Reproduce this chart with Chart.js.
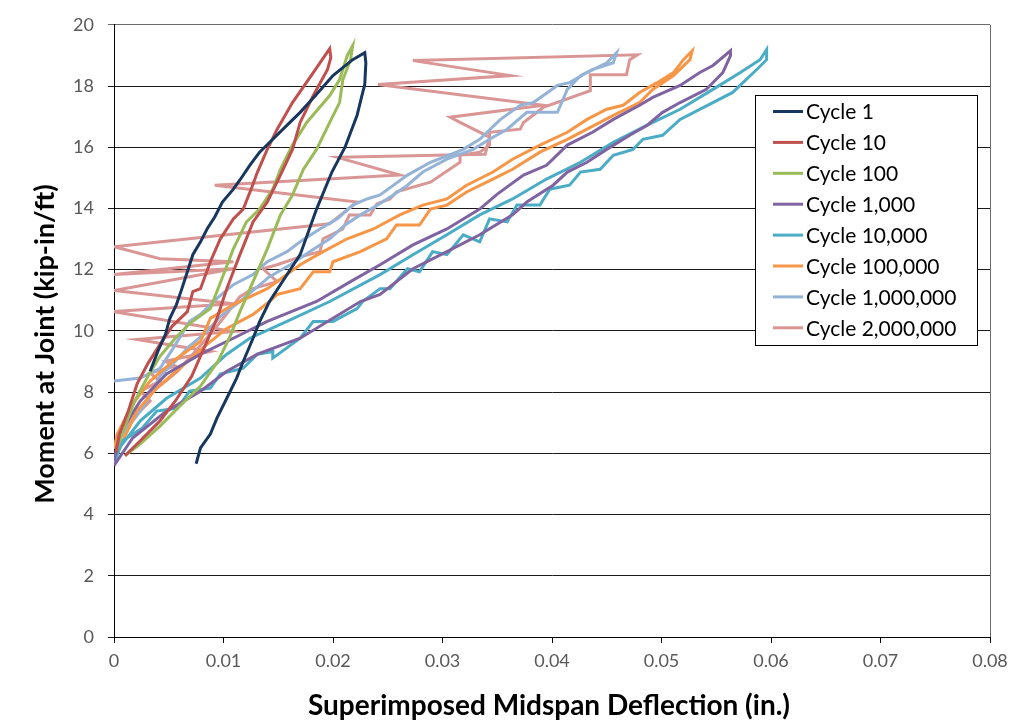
<!DOCTYPE html>
<html>
<head>
<meta charset="utf-8">
<script src="https://cdn.jsdelivr.net/npm/chart.js@4.4.0/dist/chart.umd.min.js"></script>
<style>
  html, body { margin: 0; padding: 0; background: #fff; }
  #wrap { width: 1018px; height: 726px; }
</style>
</head>
<body>
<div id="wrap"><canvas id="MiGrafica" width="1018" height="726"></canvas></div>
<script>
// Datos: [deflexion (in.), momento (kip-in/ft)]
const seriesNames = ["Cycle 1", "Cycle 10", "Cycle 100", "Cycle 1,000", "Cycle 10,000",
  "Cycle 100,000", "Cycle 1,000,000", "Cycle 2,000,000"];
const seriesColors = ["#17375E", "#C0504D", "#9BBB59", "#8064A2", "#4BACC6",
  "#F79646", "#95B3D7", "#D99694"];

const cycle1 = [[.0075,5.66],[.0079,6.18],[.0088,6.63],[.0094,7.15],[.0103,7.8],[.0112,8.46],[.0118,9.0],
  [.0127,9.76],[.0133,10.3],[.0142,10.96],[.0170,12.49],[.0185,13.98],[.0199,15.19],[.0211,16.0],
  [.0222,17.04],[.0226,17.63],[.0229,18.05],[.0230,18.76],[.0229,19.09],[.0218,18.86],[.0200,18.34],
  [.0184,17.69],[.0170,17.14],[.0156,16.65],[.0145,16.26],[.0133,15.84],[.0124,15.41],[.0115,14.93],
  [.0109,14.63],[.0099,14.21],[.0092,13.72],[.0085,13.33],[.0079,12.91],[.0072,12.49],[.0067,11.93],
  [.0062,11.38],[.0057,10.86],[.0051,10.41],[.0047,9.89],[.0040,9.33],[.0033,8.68]];

const cycle10 = [[.0002,6.02],[.0005,6.63],[.0013,7.38],[.0021,8.26],[.0031,8.94],[.0042,9.56],[.0053,10.15],
  [.0067,10.63],[.0072,11.28],[.0079,11.38],[.0088,12.26],[.0097,13.0],[.0109,13.66],[.0118,13.98],
  [.0126,14.7],[.0131,15.19],[.0140,15.93],[.0149,16.59],[.0163,17.46],[.0182,18.44],[.0197,19.22],
  [.0198,18.93],[.0195,18.54],[.0182,17.69],[.0170,16.81],[.0163,15.93],[.0152,15.09],[.0140,14.21],
  [.0127,13.56],[.0115,12.49],[.0103,11.38],[.0094,10.41],[.0083,9.5],[.0071,8.52],[.0056,7.71],
  [.0042,7.06],[.0024,6.41],[.0010,5.92]];

const cycle100 = [[.0002,6.08],[.0010,6.89],[.0019,7.71],[.0031,8.52],[.0042,9.17],[.0056,9.76],[.0069,10.24],
  [.0088,10.73],[.0100,11.84],[.0109,12.68],[.0121,13.56],[.0133,13.98],[.0145,14.63],[.0152,15.28],
  [.0163,16.07],[.0176,16.81],[.0197,17.69],[.0206,18.21],[.0213,18.99],[.0218,19.32],[.0216,18.86],
  [.0209,18.21],[.0206,17.46],[.0197,16.81],[.0185,15.93],[.0173,15.28],[.0163,14.44],[.0152,13.79],
  [.0140,12.68],[.0127,11.61],[.0115,10.63],[.0106,9.82],[.0095,9.01],[.0079,8.2],[.0060,7.54],
  [.0042,6.89],[.0024,6.31],[.0010,5.92]];

const cycle1k = [[0,5.6],[.0017,6.5],[.0048,7.38],[.0079,8.03],[.0103,8.68],[.0131,9.24],[.0170,9.76],
  [.0225,10.96],[.0243,11.19],[.0273,12.03],[.0304,12.59],[.0334,13.14],[.0364,13.79],[.0377,14.21],
  [.0401,14.76],[.0414,15.19],[.0432,15.51],[.0450,15.93],[.0471,16.39],[.0487,16.72],[.0501,17.14],
  [.0517,17.46],[.0541,17.89],[.0556,18.44],[.0563,18.99],[.0563,19.15],[.0547,18.67],[.0535,18.44],
  [.0517,18.02],[.0492,17.63],[.0480,17.37],[.0456,16.91],[.0437,16.49],[.0414,16.07],[.0395,15.41],
  [.0374,15.09],[.0350,14.47],[.0334,13.98],[.0304,13.33],[.0273,12.81],[.0243,12.16],[.0216,11.61],
  [.0185,10.96],[.0140,10.31],[.0109,9.76],[.0079,9.24],[.0048,8.59],[.0024,7.71],[.0005,6.63],[0,5.76]];

const cycle10k = [[0,5.66],[.0008,6.41],[.0026,6.83],[.0039,7.38],[.0058,7.48],[.0069,8.03],[.0088,8.13],
  [.0097,8.59],[.0118,8.78],[.0131,9.24],[.0145,9.33],[.0145,9.11],[.0170,9.76],[.0182,10.31],[.0200,10.31],
  [.0222,10.73],[.0227,10.96],[.0243,11.38],[.0252,11.38],[.0268,12.03],[.0279,11.93],[.0291,12.59],
  [.0304,12.49],[.0319,13.14],[.0334,12.91],[.0343,13.66],[.0359,13.56],[.0368,14.11],[.0389,14.11],
  [.0398,14.63],[.0416,14.76],[.0426,15.19],[.0444,15.28],[.0456,15.74],[.0474,15.93],[.0483,16.26],
  [.0501,16.39],[.0517,16.91],[.0542,17.37],[.0565,17.79],[.0587,18.54],[.0596,18.86],[.0596,19.19],
  [.0590,18.86],[.0572,18.44],[.0547,17.89],[.0517,17.24],[.0487,16.72],[.0456,16.16],[.0426,15.51],
  [.0395,14.96],[.0364,14.31],[.0334,13.79],[.0304,13.14],[.0273,12.49],[.0243,11.84],[.0197,10.96],
  [.0158,10.31],[.0124,9.76],[.0103,9.24],[.0079,8.46],[.0048,7.8],[.0024,7.06],[.0005,6.18]];

const cycle100k = [[.0001,5.85],[.0008,6.41],[.0021,7.38],[.0039,8.13],[.0060,8.78],[.0085,9.56],[.0103,10.08],
  [.0127,10.54],[.0142,10.96],[.0149,11.19],[.0170,11.38],[.0182,11.93],[.0197,11.93],[.0200,12.26],
  [.0225,12.59],[.0249,13.01],[.0258,13.46],[.0279,13.46],[.0289,13.98],[.0304,14.11],[.0322,14.54],
  [.0346,14.96],[.0364,15.28],[.0389,15.84],[.0414,16.26],[.0432,16.59],[.0456,17.04],[.0480,17.46],
  [.0492,17.89],[.0511,18.34],[.0526,18.86],[.0528,19.15],[.0520,18.86],[.0511,18.44],[.0496,18.11],
  [.0480,17.79],[.0465,17.37],[.0450,17.24],[.0432,16.91],[.0414,16.49],[.0389,16.07],[.0364,15.61],
  [.0346,15.19],[.0322,14.76],[.0304,14.31],[.0282,14.11],[.0261,13.79],[.0237,13.33],[.0213,13.01],
  [.0191,12.59],[.0170,12.16],[.0140,11.38],[.0109,10.86],[.0088,10.41],[.0079,9.66],[.0054,9.01],
  [.0033,8.36],[.0017,7.61],[.0003,6.63],[0,6.15]];

const cycle1m = [[0,6.24],[.0010,6.73],[.0024,7.38],[.0033,7.87],[.0042,8.52],[.0056,9.01],[.0069,9.5],
  [.0085,9.98],[.0097,10.47],[.0115,10.96],[.0129,11.38],[.0142,11.77],[.0161,12.16],[.0179,12.59],
  [.0197,13.01],[.0211,13.46],[.0225,13.79],[.0238,14.05],[.0255,14.44],[.0268,14.76],[.0282,15.19],
  [.0304,15.61],[.0328,15.93],[.0343,16.26],[.0359,16.59],[.0377,17.14],[.0405,17.14],[.0414,17.89],
  [.0426,18.34],[.0437,18.54],[.0456,18.76],[.0459,19.09],[.0450,18.76],[.0432,18.44],[.0416,18.11],
  [.0405,18.02],[.0383,17.46],[.0371,17.37],[.0353,16.91],[.0334,16.26],[.0319,15.93],[.0289,15.51],
  [.0268,15.09],[.0243,14.44],[.0231,14.31],[.0218,14.11],[.0204,13.66],[.0188,13.33],[.0170,12.91],
  [.0158,12.59],[.0140,12.26],[.0127,11.84],[.0109,11.51],[.0094,11.06],[.0079,10.54],[.0069,10.31],
  [.0054,9.43],[.0042,8.78],[.0024,8.46],[0,8.36]];

const cycle2m = [[.0003,6.5],[.0015,7.06],[.0033,7.71],[.0024,8.03],[.0042,8.36],[.0033,8.62],[.0056,8.85],
  [.0047,9.01],[.0088,9.33],[.0021,9.72],[.0109,9.98],[0,10.63],[.0109,10.89],[0,11.32],[.0109,12.03],
  [0,11.84],[.0109,12.26],[.0042,12.36],[0,12.75],[.0197,13.5],[.0222,14.21],[.0092,14.76],[.0261,15.09],
  [.0204,15.67],[.0339,15.77],[.0343,16.33],[.0316,16.81],[.0307,16.98],[.0392,17.37],[.0241,18.05],
  [.0362,18.34],[.0273,18.83],[.0478,19.02],[.0471,18.86],[.0468,18.37],[.0435,18.37],[.0435,17.85],
  [.0392,17.3],[.0374,16.81],[.0371,16.59],[.0343,16.49],[.0343,16.07],[.0334,15.84],[.0316,15.74],
  [.0316,15.51],[.0289,14.86],[.0258,14.54],[.0252,14.31],[.0240,14.15],[.0234,13.79],[.0215,13.79],
  [.0209,13.33],[.0191,13.01],[.0188,12.59],[.0170,12.42],[.0149,12.16],[.0136,12.03],[.0149,11.61],
  [.0127,11.38],[.0115,11.12],[.0101,10.47],[.0090,9.98],[.0072,9.24],[.0058,8.68],[.0036,8.03],
  [.0017,7.15],[.0005,6.63]];

const allSeries = [cycle1, cycle10, cycle100, cycle1k, cycle10k, cycle100k, cycle1m, cycle2m];

const xTicks = [0, 0.01, 0.02, 0.03, 0.04, 0.05, 0.06, 0.07, 0.08];
const yTicks = [0, 2, 4, 6, 8, 10, 12, 14, 16, 18, 20];
const xTitle = "Superimposed Midspan Deflection (in.)";
const yTitle = "Moment at Joint (kip-in/ft)";

// Leyenda y titulos de ejes dibujados a mano, como en Excel
const legendBox = {
  id: "legendBox",
  afterDraw(chart) {
    const ctx = chart.ctx;
    const a = chart.chartArea;
    ctx.save();
    // borde derecho del area
    ctx.strokeStyle = "#6b6b6b";
    ctx.lineWidth = 1;
    ctx.beginPath();
    ctx.moveTo(a.right + 0.5, a.top);
    ctx.lineTo(a.right + 0.5, a.bottom);
    ctx.stroke();

    // titulos
    ctx.fillStyle = "#000";
    ctx.font = "bold 28px Lato, sans-serif";
    ctx.textAlign = "center";
    ctx.textBaseline = "middle";
    ctx.fillText(xTitle, (a.left + a.right) / 2 - 3, 706);
    ctx.save();
    ctx.translate(45, 344);
    ctx.rotate(-Math.PI / 2);
    ctx.font = "bold 27px Lato, sans-serif";
    ctx.fillText(yTitle, 0, 0);
    ctx.restore();

    // leyenda
    const left = 755, top = 95, w = 222, h = 250;
    ctx.fillStyle = "#fff";
    ctx.fillRect(left, top, w, h);
    ctx.strokeStyle = "#000";
    ctx.strokeRect(left + 0.5, top + 0.5, w, h);
    ctx.font = "21px Lato, sans-serif";
    ctx.textAlign = "left";
    ctx.textBaseline = "middle";
    chart.data.datasets.forEach((ds, i) => {
      const y = top + 16.5 + i * 30.9;
      ctx.strokeStyle = ds.borderColor;
      ctx.lineWidth = 3;
      ctx.beginPath();
      ctx.moveTo(773, y);
      ctx.lineTo(803, y);
      ctx.stroke();
      ctx.fillStyle = "#000";
      ctx.fillText(ds.label, 806, y + 1);
    });
    ctx.restore();
  }
};

const miCanvas = document.getElementById("MiGrafica").getContext("2d");

const chart = new Chart(miCanvas, {
  type: "scatter",
  data: {
    datasets: seriesNames.map((name, i) => ({
      label: name,
      data: allSeries[i].map(p => ({ x: p[0], y: p[1] })),
      showLine: true,
      borderColor: seriesColors[i],
      backgroundColor: seriesColors[i],
      borderWidth: 3,
      pointRadius: 0,
      tension: 0
    }))
  },
  options: {
    responsive: false,
    animation: false,
    plugins: {
      legend: { display: false },
      tooltip: { enabled: false }
    },
    layout: {
      padding: { left: 0, right: 28, top: 22, bottom: 0 }
    },
    scales: {
      x: {
        type: "linear",
        min: 0,
        max: 0.08,
        afterBuildTicks: s => { s.ticks = xTicks.map(v => ({ value: v })); },
        afterFit: s => { s.height = 89; },
        ticks: {
          color: "#595959",
          font: { family: "Lato", size: 18 },
          padding: 7,
          maxRotation: 0,
          callback: v => String(parseFloat(v.toFixed(2)))
        },
        grid: { drawOnChartArea: false, drawTicks: true, tickLength: 6, color: "#000" },
        border: { color: "#000", width: 1 }
      },
      y: {
        type: "linear",
        min: 0,
        max: 20,
        afterBuildTicks: s => { s.ticks = yTicks.map(v => ({ value: v })); },
        afterFit: s => { s.width = 114; },
        ticks: {
          color: "#595959",
          font: { family: "Lato", size: 18 },
          padding: 14
        },
        grid: {
          drawTicks: true,
          tickLength: 6,
          color: c => (c.tick && c.tick.value === 20 ? "#6b6b6b" : "#1a1a1a")
        },
        border: { color: "#000", width: 1 }
      }
    }
  },
  plugins: [legendBox]
});
</script>
</body>
</html>
